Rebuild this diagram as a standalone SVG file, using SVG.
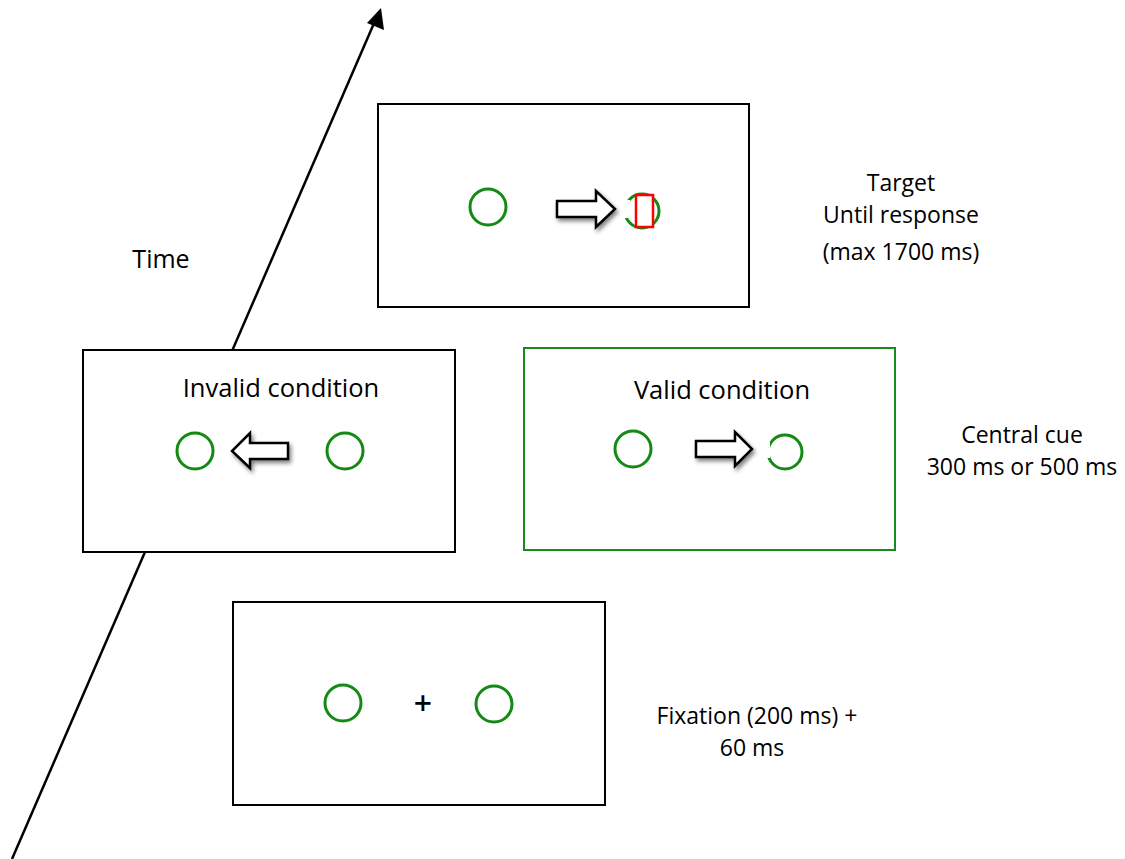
<svg xmlns="http://www.w3.org/2000/svg" width="1125" height="859" viewBox="0 0 1125 859">
<defs>
<style>
.box{fill:#fff;stroke:#000;stroke-width:2}
.gbox{fill:#fff;stroke:#1a8a1a;stroke-width:2}
.c{fill:none;stroke:#138a13;stroke-width:3}
.t{font-family:"Open Sans","Noto Sans",sans-serif;font-size:25.5px;fill:#000;text-anchor:middle}
.lbl{font-family:"Open Sans","Noto Sans",sans-serif;font-size:23px;fill:#000;text-anchor:middle}
.arr{fill:#fff;stroke:#000;stroke-width:2.5;stroke-linejoin:miter;filter:url(#sh)}
</style>
<filter id="sh" x="-30%" y="-30%" width="170%" height="170%">
<feGaussianBlur in="SourceAlpha" stdDeviation="2"/>
<feOffset dx="2" dy="3" result="b"/>
<feComponentTransfer><feFuncA type="linear" slope="0.5"/></feComponentTransfer>
<feMerge><feMergeNode/><feMergeNode in="SourceGraphic"/></feMerge>
</filter>
</defs>
<rect width="1125" height="859" fill="#fff"/>
<g id="connectors">
<line x1="12" y1="859" x2="378" y2="14" stroke="#000" stroke-width="2.5"/>
<path d="M381,8 L384,30 L367,23 Z" fill="#000"/>
</g>
<text class="t" x="161" y="268" style="font-size:25px">Time</text>
<g id="target">
<rect class="box" x="378" y="104" width="371" height="203"/>
<circle class="c" cx="488" cy="207" r="18"/>
<circle class="c" cx="642" cy="211" r="17"/>
<rect x="622" y="200" width="8" height="18" fill="#fff"/>
<path class="arr" d="M557,201 L596,201 L596,191 L615,209 L596,227 L596,217 L557,217 Z"/>
<rect x="636" y="195" width="17" height="32" fill="#fff" stroke="#f00" stroke-width="2.5"/>
</g>
<text class="lbl" x="901" y="191">Target</text>
<text class="lbl" x="901" y="223">Until response</text>
<text class="lbl" x="901" y="260">(max 1700 ms)</text>
<g id="invalid">
<rect class="box" x="83" y="350" width="372" height="202"/>
<text class="t" x="281" y="397">Invalid condition</text>
<circle class="c" cx="195" cy="451" r="18"/>
<circle class="c" cx="345" cy="451" r="18"/>
<path class="arr" d="M288,443 L250,443 L250,433 L232,451 L250,468 L250,459 L288,459 Z"/>
</g>
<g id="valid">
<rect class="gbox" x="524" y="348" width="371" height="202"/>
<text class="t" x="722" y="399">Valid condition</text>
<circle class="c" cx="633" cy="449" r="18"/>
<circle class="c" cx="785" cy="452" r="17"/>
<rect x="764" y="442" width="6" height="16" fill="#fff"/>
<path class="arr" d="M696,441 L735,441 L735,432 L752,449 L735,466 L735,457 L696,457 Z"/>
</g>
<text class="lbl" x="1022" y="443">Central cue</text>
<text class="lbl" x="1022" y="475">300 ms or 500 ms</text>
<g id="fixation">
<rect class="box" x="233" y="602" width="372" height="203"/>
<circle class="c" cx="343" cy="703" r="18"/>
<circle class="c" cx="494" cy="704" r="18"/>
<text x="423" y="715" font-family="'Open Sans',sans-serif" font-size="32" font-weight="600" text-anchor="middle" fill="#000">+</text>
</g>
<text class="lbl" x="757" y="724">Fixation (200 ms) +</text>
<text class="lbl" x="752" y="756">60 ms</text>
</svg>
